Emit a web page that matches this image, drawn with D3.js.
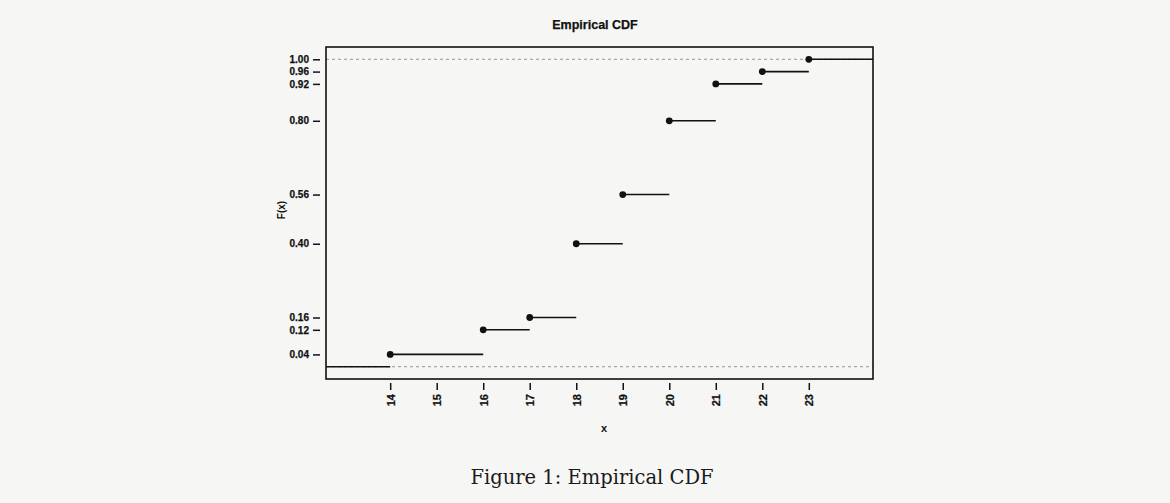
<!DOCTYPE html>
<html><head><meta charset="utf-8">
<script src="https://cdn.jsdelivr.net/npm/d3@7"></script>
<style>
html,body{margin:0;padding:0;background:#f6f6f5;}
svg{display:block;}
</style></head>
<body>
<svg id="chart" width="1170" height="503"></svg>
<script>
const xValues = [14, 16, 17, 18, 19, 20, 21, 22, 23];
const cdfValues = [0.04, 0.12, 0.16, 0.40, 0.56, 0.80, 0.92, 0.96, 1.00];
const xTicks = [14, 15, 16, 17, 18, 19, 20, 21, 22, 23];
const yTicks = [0.04, 0.12, 0.16, 0.40, 0.56, 0.80, 0.92, 0.96, 1.00];

const svg = d3.select("#chart");
const L = 326, R = 873, T = 47, B = 379;
const x = d3.scaleLinear().domain([12.62, 24.38]).range([L, R]);
const y = d3.scaleLinear().domain([-0.04, 1.04]).range([B, T]);
const sans = "Liberation Sans, Arial, sans-serif";

// reference lines at 0 and 1
svg.selectAll(".ref").data([0, 1]).enter().append("line")
  .attr("x1", L).attr("x2", R).attr("y1", d => y(d)).attr("y2", d => y(d))
  .attr("stroke", "#a8a8a8").attr("stroke-width", 1.2).attr("stroke-dasharray", "3,3");

// step segments
const segs = [{x0: x.invert(L), x1: xValues[0], v: 0}];
xValues.forEach((xv, i) => {
  segs.push({x0: xv, x1: i < xValues.length - 1 ? xValues[i + 1] : x.invert(R), v: cdfValues[i]});
});
svg.selectAll(".seg").data(segs).enter().append("line")
  .attr("x1", d => x(d.x0)).attr("x2", d => x(d.x1))
  .attr("y1", d => y(d.v)).attr("y2", d => y(d.v))
  .attr("stroke", "#111").attr("stroke-width", 1.6);

// points
svg.selectAll(".pt").data(xValues).enter().append("circle")
  .attr("cx", d => x(d)).attr("cy", (d, i) => y(cdfValues[i])).attr("r", 3.4)
  .attr("fill", "#111");

// box
svg.append("rect").attr("x", L).attr("y", T).attr("width", R - L).attr("height", B - T)
  .attr("fill", "none").attr("stroke", "#111").attr("stroke-width", 1.6);

// y axis
const yAxis = d3.axisLeft(y).tickValues(yTicks).tickFormat(d3.format(".2f")).tickSize(7).tickPadding(4);
const gy = svg.append("g").attr("transform", `translate(${L - 6},0)`).call(yAxis);
gy.select(".domain").remove();
gy.selectAll("line").attr("stroke", "#111").attr("stroke-width", 1.5);
gy.selectAll("text").attr("font-family", sans)
  .attr("font-weight", "bold").attr("font-size", 10).attr("fill", "#111")
  .attr("stroke", "#111").attr("stroke-width", 0.25);

// x axis
const xAxis = d3.axisBottom(x).tickValues(xTicks).tickFormat(d3.format("d")).tickSize(7).tickPadding(4);
const gx = svg.append("g").attr("transform", `translate(0,${B + 4})`).call(xAxis);
gx.select(".domain").remove();
gx.selectAll("line").attr("stroke", "#111").attr("stroke-width", 1.5);
gx.selectAll("text").attr("font-family", sans)
  .attr("font-weight", "bold").attr("font-size", 11).attr("fill", "#111")
  .attr("stroke", "#111").attr("stroke-width", 0.25)
  .attr("transform", "rotate(-90)").attr("text-anchor", "end").attr("dy", "0.35em")
  .attr("x", -11).attr("y", 0);

// title
svg.append("text").attr("x", 595).attr("y", 29).attr("text-anchor", "middle")
  .attr("font-family", sans).attr("font-weight", "bold")
  .attr("font-size", 12.5).attr("fill", "#111").attr("stroke", "#111").attr("stroke-width", 0.25)
  .text("Empirical CDF");

// axis labels
svg.append("text").attr("transform", "translate(285,210) rotate(-90)").attr("text-anchor", "middle")
  .attr("font-family", sans).attr("font-weight", "bold")
  .attr("font-size", 10).attr("fill", "#111").text("F(x)");
svg.append("text").attr("x", 604).attr("y", 432).attr("text-anchor", "middle")
  .attr("font-family", sans).attr("font-weight", "bold")
  .attr("font-size", 11).attr("fill", "#111").text("x");

// caption
svg.append("text").attr("x", 592).attr("y", 484).attr("text-anchor", "middle")
  .attr("font-family", "DejaVu Serif, Liberation Serif, serif")
  .attr("font-size", 19.5).attr("fill", "#1a1a1a").text("Figure 1: Empirical CDF");
</script>
</body></html>
